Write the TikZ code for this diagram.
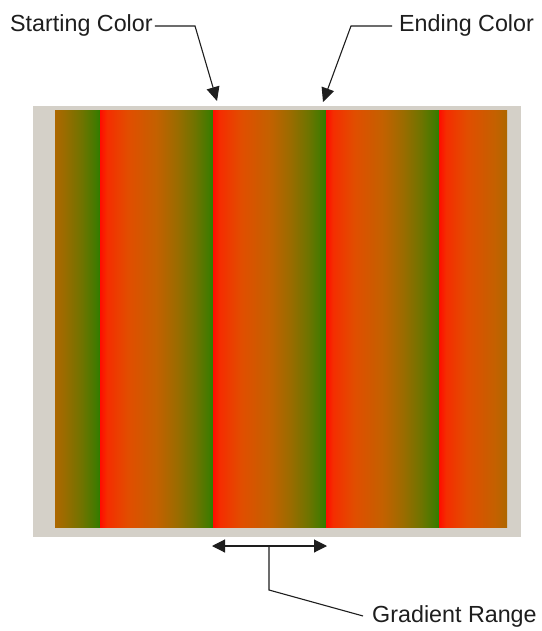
\documentclass[tikz,border=0pt]{standalone}
\usepackage{fontspec}
\setmainfont{Liberation Sans}
\usetikzlibrary{arrows.meta}
\definecolor{framegray}{RGB}{212,208,200}
\definecolor{inkc}{RGB}{30,30,30}
\definecolor{sa}{RGB}{255,12,0}
\definecolor{sb}{RGB}{245,45,0}
\definecolor{sc}{RGB}{225,78,0}
\definecolor{sd}{RGB}{195,97,0}
\definecolor{se}{RGB}{155,108,0}
\definecolor{sf}{RGB}{110,116,0}
\definecolor{sg}{RGB}{66,122,0}
\definecolor{sh}{RGB}{42,126,0}
\pgfdeclarehorizontalshading{stripe}{100bp}{color(0bp)=(sa); color(25bp)=(sa); color(28bp)=(sb); color(37.5bp)=(sc); color(50bp)=(sd); color(59bp)=(se); color(67bp)=(sf); color(73bp)=(sg); color(75bp)=(sh); color(100bp)=(sh)}
\begin{document}
\begin{tikzpicture}[x=1pt,y=-1pt,
  lbl/.style={inner sep=0pt, font=\fontsize{23.3}{28}\selectfont, text=inkc},
  conn/.style={line width=1.1pt, draw=inkc},
  tipend/.style={-{Triangle[length=14pt,width=13pt]}},
  bothend/.style={{Triangle[length=13pt,width=13pt]}-{Triangle[length=13pt,width=13pt]}}]
\fill[white] (0,0) rectangle (541,631);
\fill[framegray] (33,106) rectangle (521,537);
\begin{scope}
  \clip (55,111) rectangle (507,527);
  \foreach \a in {-13,100,213,326,439}{
    \shade[shading=stripe] (\a,111) rectangle ({\a+113.4},527);
  }
\end{scope}
\node[lbl, anchor=base west] (start) at (10,32) {Starting Color};
\node[lbl, anchor=base west] (end) at (399,32) {Ending Color};
\node[lbl, anchor=base west] (range) at (372,622) {Gradient Range};
\coordinate (sk) at (193,26);
\coordinate (st) at (217,101);
\coordinate (ek) at (358,26);
\coordinate (et) at (323,102);
\coordinate (rl) at (212,546);
\coordinate (rr) at (327,546);
\coordinate (rm) at (269,546);
\coordinate (rk) at (269,590);
\draw[conn,tipend] ([xshift=2pt]start.east) -- ([xshift=2pt]start.east -| sk) -- (st);
\draw[conn,tipend] ([xshift=-7pt]end.west) -- ([xshift=-7pt]end.west -| ek) -- (et);
\draw[conn,bothend] (rl) -- (rr);
\draw[conn] (rm) -- (rk) -- ([xshift=-9pt]range.west);
\end{tikzpicture}
\end{document}
